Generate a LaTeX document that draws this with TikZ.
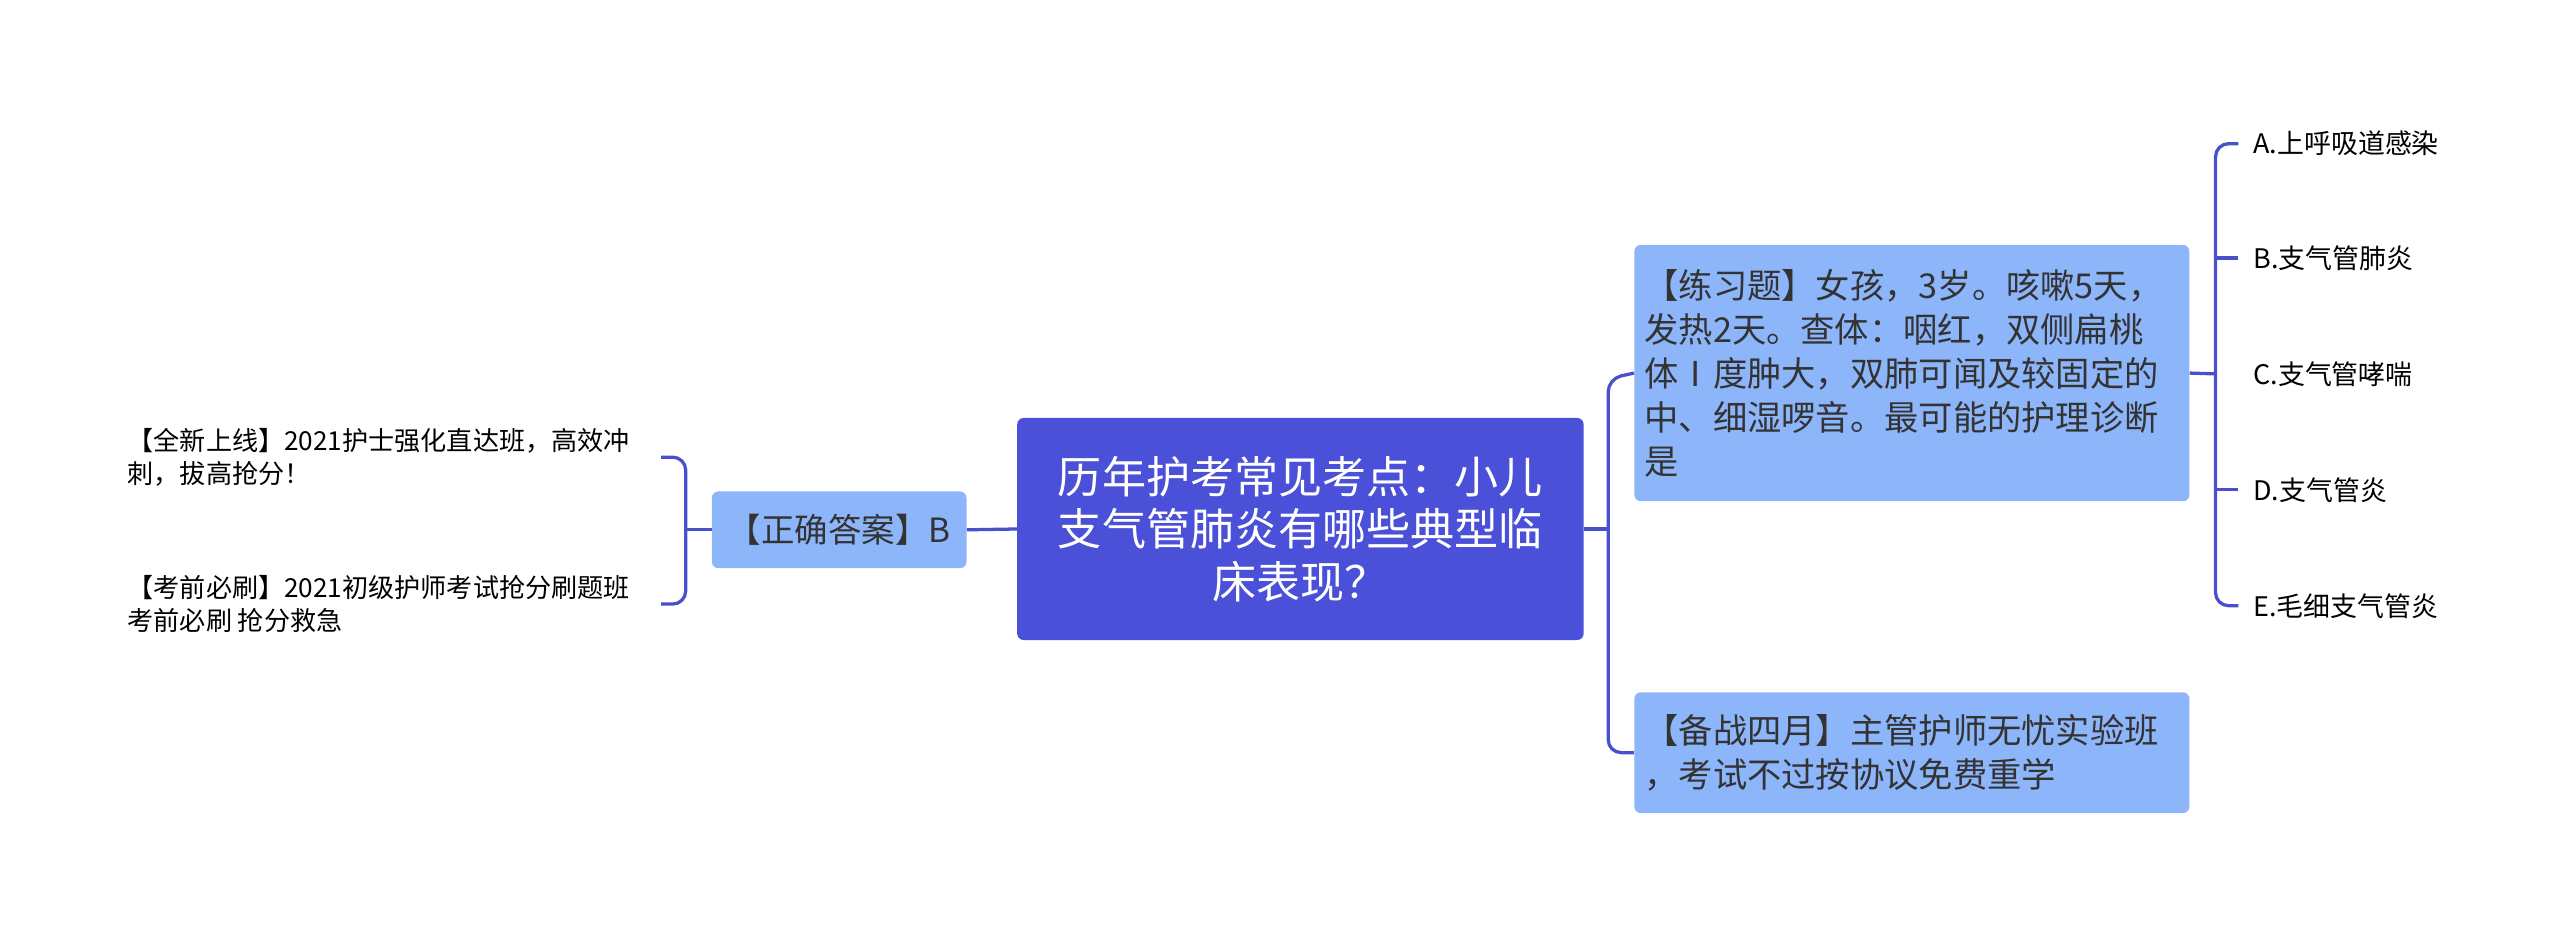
\documentclass[tikz,border=0pt]{standalone}
\usepackage{fontspec}
\setmainfont{Noto Sans CJK SC}
\begin{document}
\begin{tikzpicture}[x=1pt,y=-1pt,
  ln/.style={draw=lnc,line width=2pt,rounded corners=8pt},
  box/.style={rounded corners=4pt,inner sep=0pt},
  lf/.style={font=\fontsize{16}{20}\selectfont,align=left,anchor=west,inner sep=0pt}]
\definecolor{lnc}{HTML}{4A4FCC}
\definecolor{cen}{HTML}{4A50D8}
\definecolor{lb}{HTML}{8DB5FA}
\useasboundingbox (0,0) rectangle (1568,568);
\node[box,fill=cen,minimum width=347pt,minimum height=136pt,text=white,align=center,font=\fontsize{27}{32}\selectfont] (c) at (796.5,324) {历年护考常见考点：小儿\\支气管肺炎有哪些典型临\\床表现？};
\node[box,fill=lb,minimum width=156pt,minimum height=47pt,font=\fontsize{20.5}{24}\selectfont,text=black!80] (ans) at (514,324.5) {【正确答案】B};
\node[lf] (l1) at (78,280) {【全新上线】2021护士强化直达班，高效冲\\刺，拔高抢分！};
\node[lf] (l2) at (78,370) {【考前必刷】2021初级护师考试抢分刷题班\\考前必刷 抢分救急};
\node[box,fill=lb,minimum width=340pt,minimum height=157pt] (q) at (1171,228.5) {};
\node[lf,font=\fontsize{21}{27}\selectfont,text=black!80] at (1007,228.5) {【练习题】女孩，3岁。咳嗽5天，\\发热2天。查体：咽红，双侧扁桃\\体Ⅰ度肿大，双肺可闻及较固定的\\中、细湿啰音。最可能的护理诊断\\是};
\node[box,fill=lb,minimum width=340pt,minimum height=74pt] (b) at (1171,461) {};
\node[lf,font=\fontsize{21}{27}\selectfont,text=black!80] at (1007,461) {【备战四月】主管护师无忧实验班\\，考试不过按协议免费重学};
\node[lf,font=\fontsize{16.5}{20}\selectfont] (A) at (1380,88) {A.上呼吸道感染};
\node[lf,font=\fontsize{16.5}{20}\selectfont] (B) at (1380,158) {B.支气管肺炎};
\node[lf,font=\fontsize{16.5}{20}\selectfont] (C) at (1380,229) {C.支气管哮喘};
\node[lf,font=\fontsize{16.5}{20}\selectfont] (D) at (1380,300) {D.支气管炎};
\node[lf,font=\fontsize{16.5}{20}\selectfont] (E) at (1380,371) {E.毛细支气管炎};
\coordinate (Ae) at ([xshift=-9pt]A.west);
\coordinate (Be) at ([xshift=-9pt]B.west);
\coordinate (De) at ([xshift=-9pt]D.west);
\coordinate (Ee) at ([xshift=-9pt]E.west);
\draw[ln] (c.west) -- (ans.east);
\draw[ln] (ans.west) -- (420,324.5);
\draw[ln] (405,280) -- (420,280) -- (420,370) -- (405,370);
\draw[ln] (c.east) -- (985,324);
\draw[ln] (q.west) -- (985,232) -- (985,461) -- (b.west);
\draw[ln] (q.east) -- (1357,229);
\draw[ln] (Ae) -- (1357,88) -- (1357,371) -- (Ee);
\draw[ln] (Be) -- (1357,158);
\draw[ln] (De) -- (1357,300);
\end{tikzpicture}
\end{document}
